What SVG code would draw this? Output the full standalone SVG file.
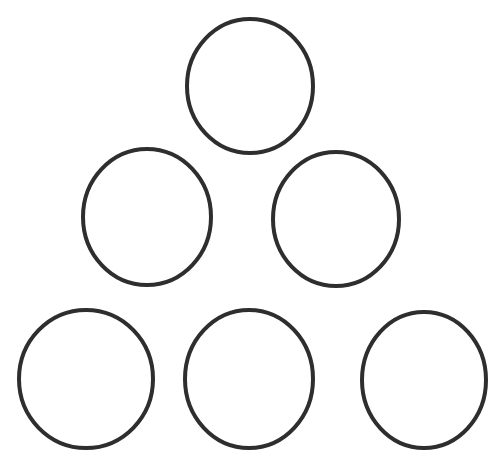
<svg xmlns="http://www.w3.org/2000/svg" width="488" height="452" viewBox="0 0 488 452">
<style>
.c{fill:none;stroke:#2e2e2e;stroke-width:4}
</style>
<rect width="488" height="452" fill="#ffffff"/>
<g id="n1"><ellipse class="c" cx="250" cy="86" rx="63" ry="67"/></g>
<g id="n2"><ellipse class="c" cx="147" cy="217" rx="64" ry="68"/></g>
<g id="n3"><ellipse class="c" cx="336" cy="219" rx="63" ry="67"/></g>
<g id="n4"><ellipse class="c" cx="86" cy="379" rx="67" ry="69"/></g>
<g id="n5"><ellipse class="c" cx="249" cy="379" rx="64" ry="69"/></g>
<g id="n6"><ellipse class="c" cx="424" cy="380" rx="62" ry="68"/></g>
<g id="connectors"></g>
</svg>
